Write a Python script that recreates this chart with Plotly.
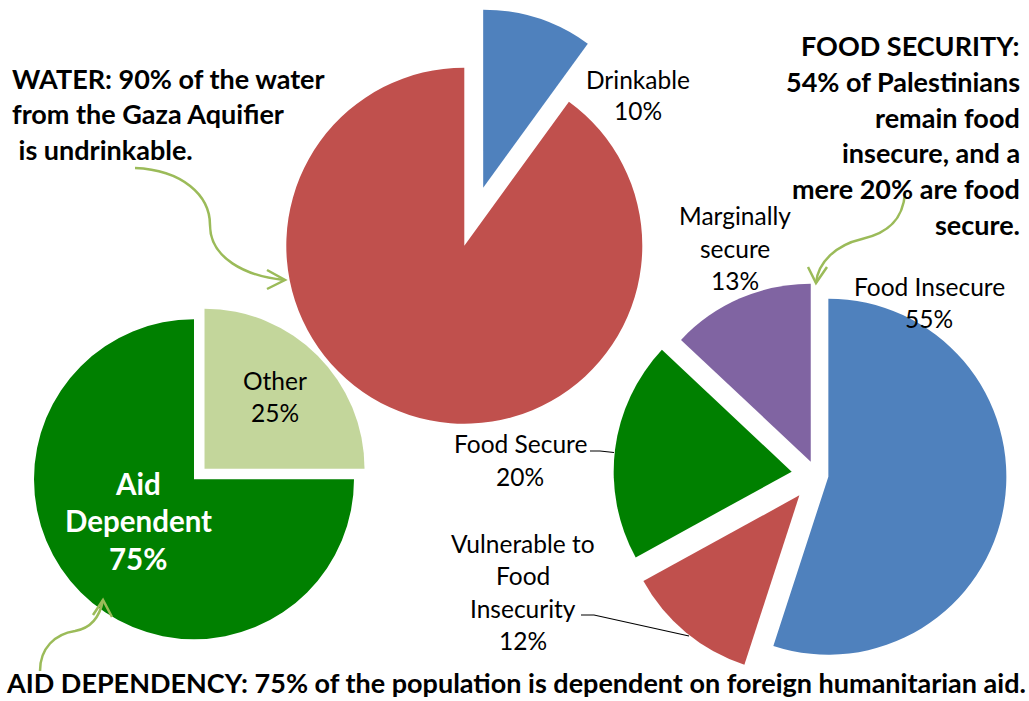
import plotly.graph_objects as go

W, H = 1029, 701

# ---------------- data ----------------
water_labels = ["Drinkable", "Undrinkable"]
water_values = [10, 90]
water_colors = ["#4F81BD", "#C0504D"]

aid_labels = ["Other", "Aid Dependent"]
aid_values = [25, 75]
aid_colors = ["#C3D69B", "#008000"]

food_labels = ["Food Insecure", "Vulnerable to Food Insecurity", "Food Secure", "Marginally secure"]
food_values = [55, 12, 20, 13]
food_colors = ["#4F81BD", "#C0504D", "#008000", "#8064A2"]

water_title = ["WATER: 90% of the water", "from the Gaza Aquifier", " is undrinkable."]
food_title = ["FOOD SECURITY:", "54% of Palestinians", "remain food", "insecure, and a",
              "mere 20% are food", "secure."]
aid_title = "AID DEPENDENCY: 75% of the population is dependent on foreign humanitarian aid."

# ---------------- layout helpers ----------------
FONT = "Lato"
ARROW = "#9BBB59"


def px(x):
    return x / W


def py(y):
    return 1 - y / H


def dom(cx, cy, r, maxpull):
    half = r * (1 + maxpull)
    return dict(x=[(cx - half) / W, (cx + half) / W],
                y=[(H - cy - half) / H, (H - cy + half) / H])


water_pull = [0.343, 0]
aid_pull = [0.093, 0]
food_pull = [0.068, 0.15, 0.14, 0.08]

fig = go.Figure()
common = dict(sort=False, direction="clockwise", rotation=0, textinfo="none",
              hoverinfo="label+percent", showlegend=False)

fig.add_trace(go.Pie(labels=aid_labels, values=aid_values, pull=aid_pull,
                     marker=dict(colors=aid_colors, line=dict(width=0)),
                     domain=dom(194, 479.3, 160, max(aid_pull)), **common))
fig.add_trace(go.Pie(labels=water_labels, values=water_values, pull=water_pull,
                     marker=dict(colors=water_colors, line=dict(width=0)),
                     domain=dom(464.3, 245.7, 178, max(water_pull)), **common))
fig.add_trace(go.Pie(labels=food_labels, values=food_values, pull=food_pull,
                     marker=dict(colors=food_colors, line=dict(width=0)),
                     domain=dom(816.4, 474.8, 178, max(food_pull)), **common))

annotations = []


def add_lines(lines, x, y0, step, size, color="black", bold=False, xanchor="center",
              yanchor="middle"):
    for i, t in enumerate(lines):
        annotations.append(dict(
            x=px(x), y=py(y0 + i * step), xref="paper", yref="paper",
            text=t.replace(" ", "&nbsp;") if t.startswith(" ") else t,
            showarrow=False, xanchor=xanchor, yanchor=yanchor,
            font=dict(family=FONT, size=size, color=color,
                      weight="bold" if bold else "normal")))


LBL = 24.5
# slice labels (name + percent)
add_lines([water_labels[0], f"{water_values[0]}%"], 638, 79, 32, LBL)
add_lines([aid_labels[0], f"{aid_values[0]}%"], 275, 380, 32, LBL)
add_lines(["Aid", "Dependent", f"{aid_values[1]}%"], 138, 483, 37.5, 29.5, color="white", bold=True)
add_lines(["Food Insecure", f"{food_values[0]}%"], 929, 286, 32, LBL)
add_lines(["Marginally", "secure", f"{food_values[3]}%"], 735, 215, 33, LBL)
add_lines(["Food Secure", f"{food_values[2]}%"], 520, 443, 33, LBL)
add_lines(["Vulnerable to", "Food", "Insecurity", f"{food_values[1]}%"], 523, 543, 32.5, LBL)

# headline texts
add_lines(water_title, 10, 78, 36, 27, bold=True, xanchor="left")
add_lines(food_title, 1022, 46, 35.6, 27, bold=True, xanchor="right")
add_lines([aid_title], 516, 701, 0, 27, bold=True, yanchor="bottom")

fig.update_layout(annotations=annotations)


def P(x, y):
    return f"{px(x):.5f},{py(y):.5f}"


shapes = []
# curved arrows
arrow_paths = [
    f"M{P(135,168)} C{P(182,170)} {P(210,195)} {P(210,225)} C{P(210,258)} {P(245,276)} {P(284,280)}",
    f"M{P(267,270)} L{P(285,280)} L{P(267,289)}",
    f"M{P(905,193)} C{P(903,222)} {P(885,234)} {P(862,239)} C{P(836,245)} {P(818,262)} {P(816,283)}",
    f"M{P(808,267)} L{P(816,283)} L{P(827,267)}",
    f"M{P(40,671)} C{P(40,648)} {P(55,634)} {P(75,631)} C{P(92,628)} {P(100,616)} {P(103,600)}",
    f"M{P(93,615)} L{P(103,600)} L{P(112,617)}",
]
for d in arrow_paths:
    shapes.append(dict(type="path", path=d, xref="paper", yref="paper",
                       line=dict(color=ARROW, width=2.5)))

# leader lines
leader_paths = [
    f"M{P(590,451)} L{P(600,451)} L{P(614,452.5)}",
    f"M{P(581,615)} L{P(594,615)} L{P(689,636)}",
]
for d in leader_paths:
    shapes.append(dict(type="path", path=d, xref="paper", yref="paper",
                       line=dict(color="black", width=1.2)))

fig.update_layout(
    shapes=shapes,
    width=W, height=H,
    margin=dict(l=0, r=0, t=0, b=0),
    paper_bgcolor="white", plot_bgcolor="white",
    showlegend=False,
)

fig.write_html("out.html", config={"displayModeBar": False},
               post_script="document.body.style.margin='0';")
